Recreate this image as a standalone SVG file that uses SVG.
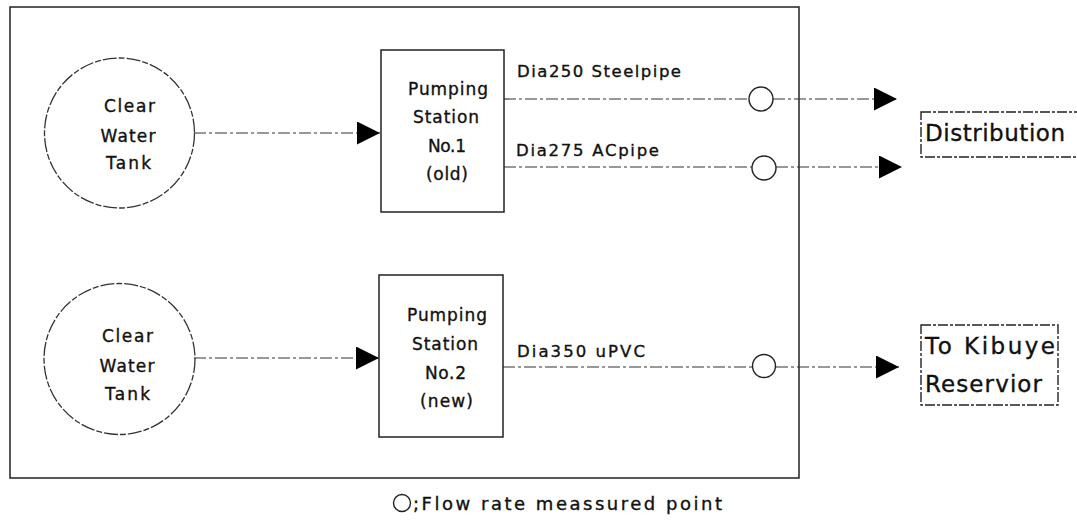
<svg xmlns="http://www.w3.org/2000/svg" width="1077" height="522" viewBox="0 0 1077 522">
<style>
  text { font-family: "DejaVu Sans", "Liberation Sans", sans-serif; fill: #111; stroke: #111; stroke-width: 0.35; }
  .node { fill: none; stroke: #222; stroke-width: 1.5; }
  .tank { fill: none; stroke: #333; stroke-width: 1.3; stroke-dasharray: 14 2 6 2; }
  .frame { fill: none; stroke: #222; stroke-width: 1.5; }
  .pipe { fill: none; stroke: #333; stroke-width: 1.2; stroke-dasharray: 12 3 3 3; }
  .meter { fill: #fff; stroke: #222; stroke-width: 1.4; }
  .dest { fill: none; stroke: #222; stroke-width: 1.4; stroke-dasharray: 10 2 3 2; }
  .t17 { font-size: 17px; }
  .lbl { font-size: 16.5px; }
  .big { font-size: 23px; }
</style>
<defs>
  <marker id="arrow" viewBox="0 0 23 23" refX="23" refY="11.5" markerWidth="23" markerHeight="23" markerUnits="userSpaceOnUse" orient="auto">
    <path d="M0,0 L23,11.5 L0,23 Z" fill="#000"/>
  </marker>
</defs>

<rect id="frame" class="frame" x="10" y="7" width="789" height="471"/>

<g id="connectors">
  <line class="pipe" x1="194" y1="133" x2="380" y2="133" marker-end="url(#arrow)"/>
  <line class="pipe" x1="194" y1="358" x2="379" y2="358" marker-end="url(#arrow)"/>
  <line class="pipe" x1="504" y1="99" x2="749" y2="99"/>
  <line class="pipe" x1="773" y1="99" x2="897" y2="99" marker-end="url(#arrow)"/>
  <line class="pipe" x1="504" y1="167" x2="752" y2="167"/>
  <line class="pipe" x1="776" y1="167" x2="902" y2="167" marker-end="url(#arrow)"/>
  <line class="pipe" x1="503" y1="367" x2="752" y2="367"/>
  <line class="pipe" x1="776" y1="367" x2="899" y2="367" marker-end="url(#arrow)"/>
  <text class="lbl" x="517" y="77" textLength="164" lengthAdjust="spacing">Dia250 Steelpipe</text>
  <text class="lbl" x="516" y="156" textLength="143" lengthAdjust="spacing">Dia275 ACpipe</text>
  <text class="lbl" x="517" y="357" textLength="128" lengthAdjust="spacing">Dia350 uPVC</text>
</g>

<g id="tank1">
  <circle class="tank" cx="119.5" cy="133" r="75"/>
  <text class="t17" x="129.5" y="112" text-anchor="middle" textLength="51" lengthAdjust="spacing">Clear</text>
  <text class="t17" x="128" y="142" text-anchor="middle" textLength="55" lengthAdjust="spacing">Water</text>
  <text class="t17" x="128.5" y="169" text-anchor="middle" textLength="45" lengthAdjust="spacing">Tank</text>
</g>

<g id="tank2">
  <circle class="tank" cx="119.5" cy="359" r="75.5"/>
  <text class="t17" x="127.5" y="342" text-anchor="middle" textLength="51" lengthAdjust="spacing">Clear</text>
  <text class="t17" x="127" y="372" text-anchor="middle" textLength="55" lengthAdjust="spacing">Water</text>
  <text class="t17" x="127.5" y="400" text-anchor="middle" textLength="45" lengthAdjust="spacing">Tank</text>
</g>

<g id="ps1">
  <rect class="node" x="381" y="50" width="123" height="162"/>
  <text class="t17" x="448" y="95" text-anchor="middle" textLength="80" lengthAdjust="spacing">Pumping</text>
  <text class="t17" x="446" y="123" text-anchor="middle" textLength="66" lengthAdjust="spacing">Station</text>
  <text class="t17" x="447" y="152" text-anchor="middle" textLength="38" lengthAdjust="spacing">No.1</text>
  <text class="t17" x="447" y="180" text-anchor="middle" textLength="42" lengthAdjust="spacing">(old)</text>
</g>

<g id="ps2">
  <rect class="node" x="379" y="275" width="124" height="162"/>
  <text class="t17" x="447" y="321" text-anchor="middle" textLength="80" lengthAdjust="spacing">Pumping</text>
  <text class="t17" x="445" y="350" text-anchor="middle" textLength="66" lengthAdjust="spacing">Station</text>
  <text class="t17" x="445.5" y="379" text-anchor="middle" textLength="41" lengthAdjust="spacing">No.2</text>
  <text class="t17" x="446.5" y="407" text-anchor="middle" textLength="53" lengthAdjust="spacing">(new)</text>
</g>

<g id="meter1"><circle class="meter" cx="761" cy="99" r="12"/></g>
<g id="meter2"><circle class="meter" cx="764" cy="168" r="12"/></g>
<g id="meter3"><circle class="meter" cx="764" cy="366" r="11.5"/></g>

<g id="distribution">
  <rect class="dest" x="921" y="112" width="180" height="45"/>
  <text class="big" x="925" y="141" textLength="140" lengthAdjust="spacing">Distribution</text>
</g>

<g id="kibuye">
  <rect class="dest" x="921" y="325" width="137" height="80"/>
  <text class="big" x="925" y="354" textLength="130" lengthAdjust="spacing">To Kibuye</text>
  <text class="big" x="925" y="392" textLength="117" lengthAdjust="spacing">Reservior</text>
</g>

<g id="legend">
  <circle class="meter" cx="402" cy="503" r="8.5"/>
  <text x="413" y="510" font-size="18" textLength="309" lengthAdjust="spacing">;Flow rate meassured point</text>
</g>
</svg>
